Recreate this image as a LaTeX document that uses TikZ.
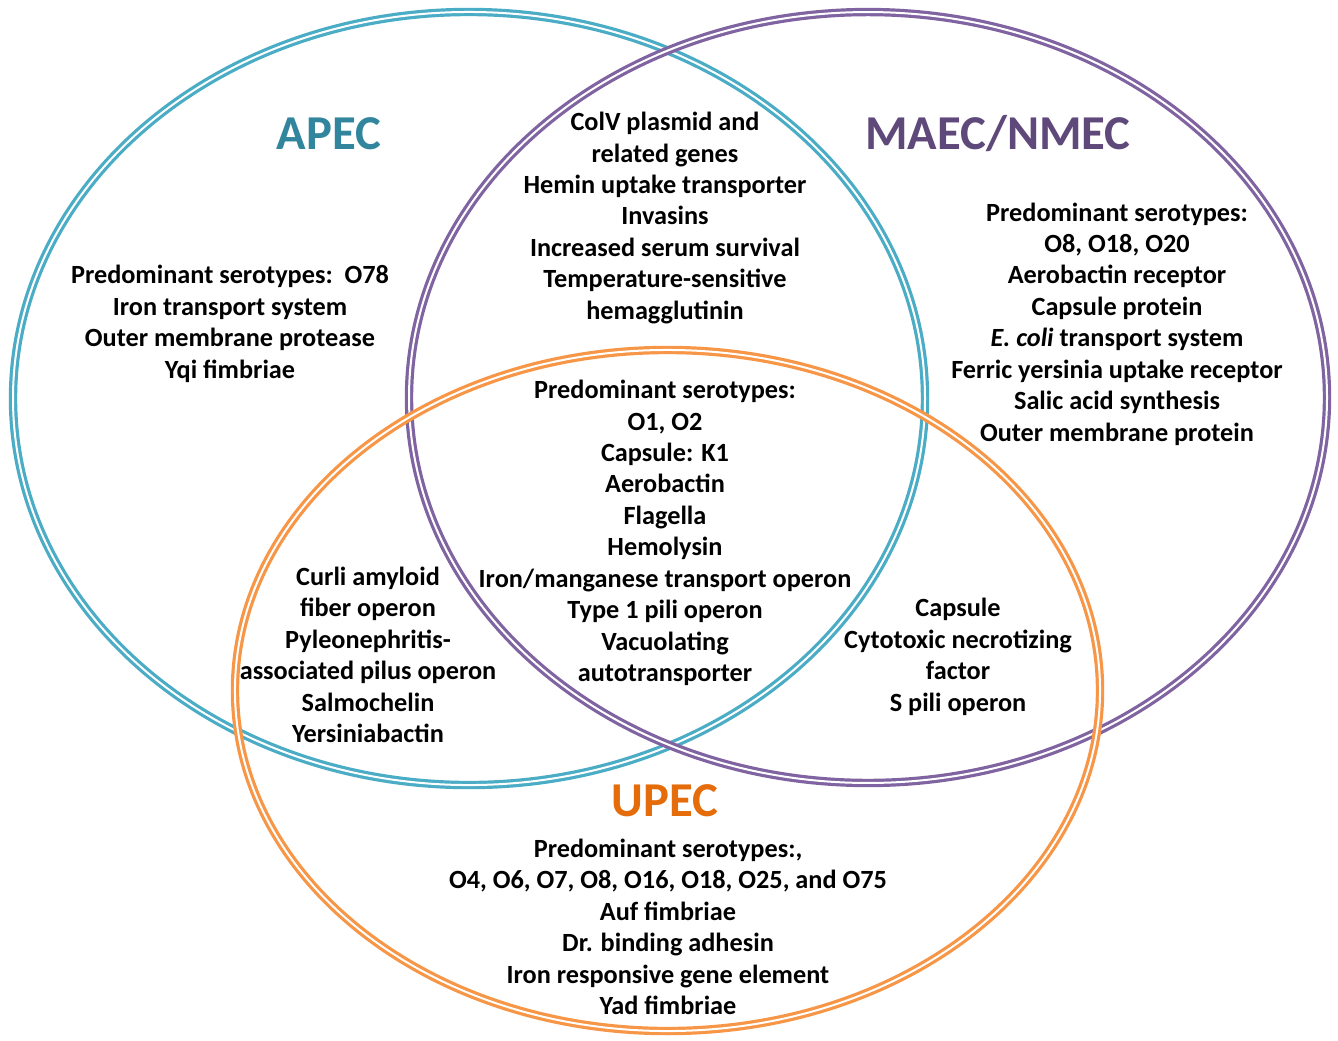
\documentclass[tikz,border=0pt]{standalone}
\usepackage{fontspec}
\setmainfont{Carlito}
\definecolor{apecring}{HTML}{4BACC6}
\definecolor{maecring}{HTML}{8064A2}
\definecolor{upecring}{HTML}{F79646}
\definecolor{apectext}{HTML}{31859C}
\definecolor{maectext}{HTML}{5F497A}
\definecolor{upectext}{HTML}{E46C0A}
\begin{document}
\begin{tikzpicture}[x=0.75pt, y=-0.75pt,
    ring/.style={line width=2.4pt, double=white, double distance=1.5pt},
    title/.style={font=\fontsize{36.5}{40}\selectfont\bfseries},
    genes/.style={align=center, font=\fontsize{19.7}{23.6}\selectfont\bfseries, inner sep=0pt}]
  \useasboundingbox (0,0) rectangle (1338,1040);

  % the three groups
  \draw[ring, apecring] (469,398.5) ellipse [x radius=342pt, y radius=289.9pt];
  \draw[ring, maecring] (868,397.5) ellipse [x radius=344.25pt, y radius=289.1pt];
  \draw[ring, upecring] (667.5,690.5) ellipse [x radius=324.4pt, y radius=255.4pt];

  \node (apec) [title, text=apectext] at (329,134) {APEC};
  \node (maec) [title, text=maectext] at (998,134) {MAEC/NMEC};
  \node (upec) [title, text=upectext] at (665,801) {UPEC};

  \node (apeconly) [genes] at (230,324) {Predominant serotypes:\ \ O78\\Iron transport system\\Outer membrane protease\\Yqi fimbriae};
  \node (apecmaec) [genes] at (665,218) {ColV plasmid and\\related genes\\Hemin uptake transporter\\Invasins\\Increased serum survival\\Temperature-sensitive\\hemagglutinin};
  \node (maeconly) [genes] at (1117,324) {Predominant serotypes:\\O8, O18, O20\\Aerobactin receptor\\Capsule protein\\\textit{E. coli} transport system\\Ferric yersinia uptake receptor\\Salic acid synthesis\\Outer membrane protein};
  \node (allthree) [genes] at (665,533) {Predominant serotypes:\\O1, O2\\Capsule: K1\\Aerobactin\\Flagella\\Hemolysin\\Iron/manganese transport operon\\Type 1 pili operon\\Vacuolating\\autotransporter};
  \node (apecupec) [genes] at (368,655) {Curli amyloid\\fiber operon\\Pyleonephritis-\\associated pilus operon\\Salmochelin\\Yersiniabactin};
  \node (maecupec) [genes] at (958,657) {Capsule\\Cytotoxic necrotizing\\factor\\S pili operon};
  \node (upeconly) [genes] at (668,927) {Predominant serotypes:,\\O4, O6, O7, O8, O16, O18, O25, and O75\\Auf fimbriae\\Dr. binding adhesin\\Iron responsive gene element\\Yad fimbriae};
\end{tikzpicture}
\end{document}
